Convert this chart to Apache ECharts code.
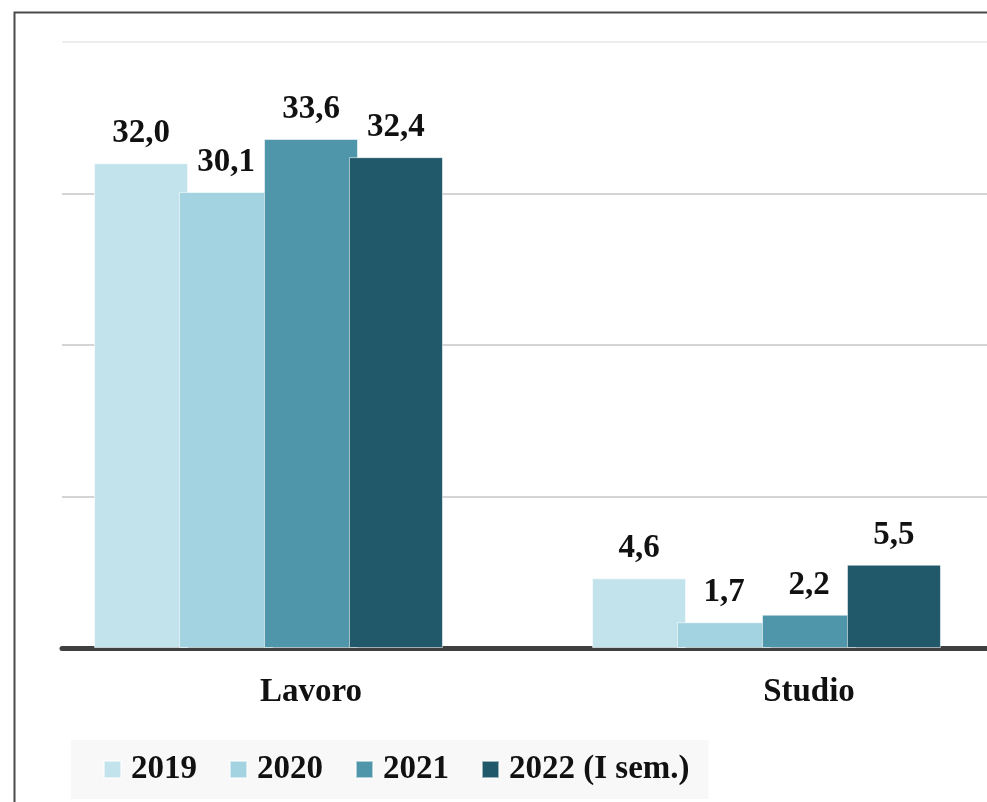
<!DOCTYPE html>
<html>
<head>
<meta charset="utf-8">
<script src="https://cdn.jsdelivr.net/npm/echarts@6/dist/echarts.min.js"></script>
<style>html,body{margin:0;padding:0;background:#fff;}#c{width:987px;height:802px;}</style>
</head>
<body>
<div id="c"></div>
<script>
const categories = ['Lavoro', 'Studio'];
const seriesNames = ['2019', '2020', '2021', '2022 (I sem.)'];
const values2019 = [32.0, 4.6];
const values2020 = [30.1, 1.7];
const values2021 = [33.6, 2.2];
const values2022 = [32.4, 5.5];
const yTicks = [0, 10, 20, 30, 40];
const colors = ['#C3E3EC', '#A3D3E1', '#4F96AB', '#22596A'];

const allValues = [values2019, values2020, values2021, values2022];
const fontFam = '"Liberation Serif", "DejaVu Serif", serif';

const chart = echarts.init(document.getElementById('c'));
const series = allValues.map((vals, i) => ({
  name: seriesNames[i],
  type: 'bar',
  data: vals,
  barWidth: 94,
  barGap: '-9.6%',
  itemStyle: { color: colors[i], borderColor: 'rgba(255,255,255,0.55)', borderWidth: 1 },
  label: {
    show: true, position: 'top', distance: 13,
    fontFamily: fontFam, fontWeight: 'bold', fontSize: 33, color: '#111',
    formatter: p => p.value.toFixed(1).replace('.', ',')
  },
  emphasis: { disabled: true }
}));
// spacer series (no data) reserving one slot to the right of each group
series.push({ name: 'spacer', type: 'bar', data: ['-', '-'], barWidth: 94, barGap: '-9.6%', silent: true });

chart.setOption({
  animation: false,
  backgroundColor: '#fff',
  graphic: [{
    type: 'rect', left: 12, top: 10, shape: { width: 1100, height: 900 },
    style: { fill: 'none', stroke: '#4a4a4a', lineWidth: 2 }, silent: true, z: -1
  }],
  grid: { left: 62, top: 42, width: 996, height: 606, outerBoundsMode: 'none', containLabel: false },
  legend: {
    data: seriesNames,
    left: 71, top: 740,
    padding: [13, 19, 13, 32],
    backgroundColor: '#F8F8F8',
    itemWidth: 17, itemHeight: 17, itemGap: 32,
    icon: 'rect',
    textStyle: { fontFamily: fontFam, fontWeight: 'bold', fontSize: 33, color: '#111', lineHeight: 23, padding: [0, 0, 0, 5] }
  },
  xAxis: {
    type: 'category', data: categories,
    axisLine: { show: true, lineStyle: { color: '#404040', width: 5 } },
    axisTick: { show: false },
    axisLabel: { margin: 28, fontFamily: fontFam, fontWeight: 'bold', fontSize: 33, color: '#111' }
  },
  yAxis: {
    type: 'value', min: yTicks[0], max: yTicks[yTicks.length - 1], interval: 10,
    axisLabel: { show: false }, axisLine: { show: false }, axisTick: { show: false },
    splitLine: { show: true, lineStyle: { color: ['#D4D4D4', '#D4D4D4', '#D4D4D4', '#D4D4D4', '#ECECEC'], width: 2 } }
  },
  series: series
});
</script>
</body>
</html>
